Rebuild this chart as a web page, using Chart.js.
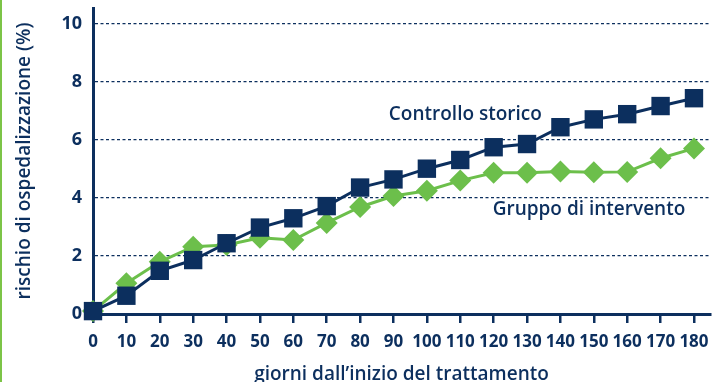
<!DOCTYPE html>
<html>
<head>
<meta charset="utf-8">
<script src="https://cdn.jsdelivr.net/npm/chart.js@4"></script>
<style>
  html, body { margin: 0; padding: 0; background: #fff; }
  #wrap { width: 711px; height: 382px; border-left: 2px solid #7cc447; }
</style>
</head>
<body>
<div id="wrap"><canvas id="chart" width="711" height="382"></canvas></div>
<script>
// days since start of treatment
const giorni = [0, 10, 20, 30, 40, 50, 60, 70, 80, 90, 100, 110, 120, 130, 140, 150, 160, 170, 180];
// hospitalisation risk (%)
const controlloStorico = [0.1, 0.63, 1.49, 1.86, 2.44, 2.98, 3.3, 3.72, 4.36, 4.64, 5.01, 5.31, 5.75, 5.86, 6.44, 6.71, 6.89, 7.17, 7.44];
const gruppoIntervento = [0.1, 1.06, 1.8, 2.32, 2.38, 2.63, 2.55, 3.14, 3.69, 4.07, 4.25, 4.6, 4.87, 4.87, 4.91, 4.89, 4.9, 5.37, 5.71];
const yTicks = [0, 2, 4, 6, 8, 10];

const navy = '#0c2f5e';
const green = '#6cbf4b';
const font = 'Open Sans';

// series names drawn inside the plot, anchored in data units
const seriesLabels = [
    { text: 'Controllo storico', x: 88.6, y: 6.69 },
    { text: 'Gruppo di intervento', x: 119.7, y: 3.41 }
];

const inlineLabels = {
    id: 'inlineLabels',
    afterDatasetsDraw(chart) {
        const ctx = chart.ctx;
        const xs = chart.scales.x, ys = chart.scales.y;
        ctx.save();
        ctx.fillStyle = navy;
        ctx.font = '600 19px "' + font + '"';
        ctx.textAlign = 'left';
        ctx.textBaseline = 'alphabetic';
        seriesLabels.forEach(l => {
            ctx.fillText(l.text, xs.getPixelForValue(l.x), ys.getPixelForValue(l.y));
        });
        ctx.restore();
    }
};

new Chart(document.getElementById('chart').getContext('2d'), {
    type: 'line',
    data: {
        datasets: [
            {
                label: 'Controllo storico',
                data: giorni.map((g, i) => ({ x: g, y: controlloStorico[i] })),
                borderColor: navy,
                backgroundColor: navy,
                borderWidth: 3,
                pointStyle: 'rect',
                pointRadius: 13,
                pointBorderWidth: 0,
                pointBackgroundColor: navy,
                tension: 0,
                clip: false
            },
            {
                label: 'Gruppo di intervento',
                data: giorni.map((g, i) => ({ x: g, y: gruppoIntervento[i] })),
                borderColor: green,
                backgroundColor: green,
                borderWidth: 3,
                pointStyle: 'rectRot',
                pointRadius: 11,
                pointBorderWidth: 0,
                pointBackgroundColor: green,
                tension: 0,
                clip: false
            }
        ]
    },
    options: {
        responsive: false,
        animation: false,
        devicePixelRatio: 1,
        layout: { autoPadding: false, padding: { top: 8, right: 3, left: 0, bottom: 0 } },
        plugins: {
            legend: { display: false },
            tooltip: { enabled: false }
        },
        scales: {
            x: {
                type: 'linear',
                min: 0,
                max: 184.8,
                afterBuildTicks: function (scale) {
                    scale.ticks = giorni.map(v => ({ value: v }));
                },
                ticks: {
                    color: navy,
                    font: { family: font, size: 17, weight: 'bold' },
                    padding: 9,
                    maxRotation: 0,
                    autoSkip: false
                },
                grid: {
                    drawOnChartArea: false,
                    drawTicks: true,
                    tickLength: 9,
                    color: navy,
                    lineWidth: 2.5
                },
                border: { color: navy, width: 3 },
                title: {
                    display: true,
                    text: 'giorni dall\u2019inizio del trattamento',
                    color: navy,
                    font: { family: font, size: 19, weight: '600', lineHeight: 0.8 },
                    padding: { top: 0, bottom: 0 }
                },
                afterFit: function (scale) {
                    scale.height = 68;
                    scale.paddingLeft = 0;
                    scale.paddingRight = 0;
                }
            },
            y: {
                type: 'linear',
                min: 0,
                max: 10.55,
                afterBuildTicks: function (scale) {
                    scale.ticks = yTicks.map(v => ({ value: v }));
                },
                ticks: {
                    color: navy,
                    font: { family: font, size: 18, weight: 'bold' },
                    padding: 11
                },
                grid: {
                    drawTicks: false,
                    color: navy,
                    lineWidth: 1.3
                },
                border: { color: navy, width: 3, dash: [3, 2.5] },
                title: {
                    display: true,
                    text: 'rischio di ospedalizzazione (%)',
                    color: navy,
                    font: { family: font, size: 19, weight: '600' },
                    padding: { top: 11, bottom: 0 }
                },
                afterFit: function (scale) {
                    scale.width = 91;
                    scale.paddingTop = 0;
                    scale.paddingBottom = 0;
                }
            }
        }
    },
    plugins: [inlineLabels]
});
</script>
</body>
</html>
